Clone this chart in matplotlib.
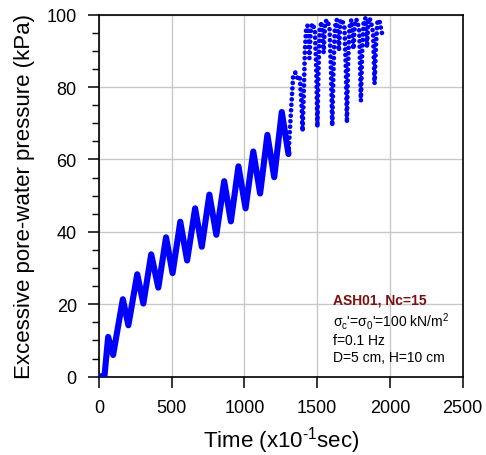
import matplotlib
matplotlib.use('Agg')
import matplotlib.pyplot as plt

plt.rcParams['font.family'] = ['Liberation Sans', 'DejaVu Sans']
plt.rcParams['mathtext.fontset'] = 'custom'
plt.rcParams['mathtext.rm'] = 'Liberation Sans'
plt.rcParams['mathtext.default'] = 'regular'

# time (x10^-1 s) and excess pore-water pressure (kPa)
# first cycles: smooth oscillation (peaks / troughs)
t_early = [0, 38, 63, 97, 164, 202, 263, 305, 359, 408, 461, 506, 559, 606,
           661, 707, 759, 807, 861, 907, 959, 1008, 1061, 1108, 1158, 1205,
           1257, 1303]
p_early = [0, 0.3, 11.0, 6.0, 21.4, 14.2, 28.3, 20.2, 33.8, 24.6, 38.5, 28.6,
           42.8, 32.1, 46.5, 35.9, 50.3, 39.2, 54.0, 42.9, 58.1, 46.5, 62.2,
           50.6, 66.8, 55.1, 73.1, 61.5]

# late cycles: near-liquefaction, sparse samples
t_late = [1303, 1320, 1335, 1350, 1365, 1380, 1392, 1400, 1408, 1416, 1425,
          1435, 1447, 1457, 1470, 1485, 1495, 1502, 1509, 1518, 1530, 1545,
          1555, 1570, 1585, 1596, 1604, 1612, 1622, 1635, 1650, 1660, 1672,
          1688, 1698, 1705, 1712, 1722, 1735, 1750, 1760, 1775, 1790, 1801,
          1810, 1820, 1832, 1843, 1853, 1868, 1885, 1895, 1905, 1915, 1928,
          1940, 1952]
p_late = [61.5, 73, 83, 84, 82.5, 83, 76, 67.8, 78, 90, 96.5,
          97, 88, 96.5, 97.5, 95.5, 84, 69, 84, 96, 98, 89.5,
          98, 98.5, 96.5, 84, 69.3, 84, 96.5, 98.5, 90, 98.5, 98.5,
          96.5, 85, 70.2, 85, 96.5, 98.5, 90.5, 98.5, 98.5, 95.5, 76.2,
          90, 98, 99, 91, 99, 98.5, 95, 80.9, 92, 98, 98.5,
          96, 93.8]

x_ticks = [0, 500, 1000, 1500, 2000, 2500]
y_ticks = [0, 20, 40, 60, 80, 100]

fig = plt.figure(figsize=(4.86, 4.56), dpi=100)
ax = fig.add_axes([0.2037, 0.1717, 0.748, 0.794])

ax.plot(t_early, p_early, color='blue', lw=4.4, solid_joinstyle='round',
        solid_capstyle='round', zorder=3)
ax.plot(t_late, p_late, color='blue', lw=3.4, linestyle=(0, (0.01, 1.15)),
        dash_capstyle='round', zorder=3)

ax.set_xlim(0, 2500)
ax.set_ylim(0, 100)
ax.set_xticks(x_ticks)
ax.set_yticks(y_ticks)
ax.set_yticks(range(0, 101, 5), minor=True)
ax.grid(True, which='major', color='#c8c8c8', lw=1.0)
ax.set_axisbelow(True)

ax.tick_params(which='major', direction='out', length=8, width=1.1,
               labelsize=13, pad=8, top=False, right=False)
ax.tick_params(which='minor', direction='out', length=5, width=1.0)
for s in ax.spines.values():
    s.set_linewidth(1.2)
    s.set_color('black')

ax.set_xlabel(r'Time (x10$^{\text{-}1}$sec)', fontsize=16, labelpad=6)
ax.set_ylabel('Excessive pore-water pressure (kPa)', fontsize=16, labelpad=8)

x0 = 0.644
ax.text(x0, 0.201, 'ASH01, Nc=15', transform=ax.transAxes, fontsize=10,
        fontweight='bold', color='#7a1010', va='baseline')
ax.text(x0, 0.141, "σ$_c$'=σ$_0$'=100 kN/m$^2$", transform=ax.transAxes,
        fontsize=10, va='baseline')
ax.text(x0, 0.090, 'f=0.1 Hz', transform=ax.transAxes, fontsize=10,
        va='baseline')
ax.text(x0, 0.044, 'D=5 cm, H=10 cm', transform=ax.transAxes, fontsize=10,
        va='baseline')

fig.savefig('out.png', dpi=100)
